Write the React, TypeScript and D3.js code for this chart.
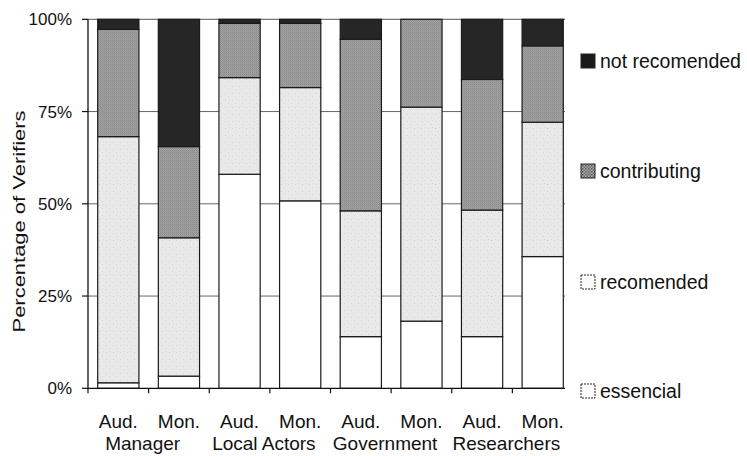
import React from "react";
import * as d3 from "d3";

const categories = ["Aud.", "Mon.", "Aud.", "Mon.", "Aud.", "Mon.", "Aud.", "Mon."];
const groups = ["Manager", "Local Actors", "Government", "Researchers"];
const essencial = [1.5, 3.3, 58.0, 50.8, 14.0, 18.2, 14.0, 35.7];
const recomended = [66.7, 37.5, 26.2, 30.7, 34.1, 58.0, 34.3, 36.4];
const contributing = [29.1, 24.7, 14.7, 17.4, 46.5, 23.8, 35.4, 20.7];
const notRecomended = [2.7, 34.5, 1.1, 1.1, 5.4, 0.0, 16.3, 7.2];
const seriesNames = ["essencial", "recomended", "contributing", "not recomended"];
const yTicks = [0, 25, 50, 75, 100];

const W = 747;
const H = 456;
const FONT = "'Liberation Sans', Arial, Helvetica, sans-serif";

export default function App() {
  const left = 88;
  const right = 573;
  const top = 19.3;
  const bottom = 388.3;
  const axisEnd = 565;

  const idx = categories.map((_, i) => i);
  const x = d3.scaleBand<number>().domain(idx).range([left, right]).padding(0);
  const y = d3.scaleLinear().domain([0, 100]).range([bottom, top]);
  const barW = x.bandwidth() * 0.68;

  const rows = idx.map((i) => ({
    essencial: essencial[i],
    recomended: recomended[i],
    contributing: contributing[i],
    "not recomended": notRecomended[i],
  }));
  const stacked = d3.stack<any>().keys(seriesNames)(rows);

  const fills: Record<string, string> = {
    essencial: "#ffffff",
    recomended: "url(#patRec)",
    contributing: "url(#patCon)",
    "not recomended": "#262626",
  };
  const legendFills: Record<string, string> = {
    essencial: "#ffffff",
    recomended: "#fafafa",
    contributing: "url(#patConL)",
    "not recomended": "#1a1a1a",
  };

  const legendY = [61, 171, 282, 391];
  const legendOrder = ["not recomended", "contributing", "recomended", "essencial"];

  return (
    <div style={{ position: "absolute", left: 0, top: 0 }}>
      <svg width={W} height={H} style={{ display: "block", background: "#fff" }} fontFamily={FONT}>
        <defs>
          <pattern id="patCon" width="2" height="2" patternUnits="userSpaceOnUse">
            <rect width="2" height="2" fill="#a2a2a2" />
            <rect width="1" height="1" fill="#8a8a8a" />
            <rect x="1" y="1" width="1" height="1" fill="#939393" />
          </pattern>
          <pattern id="patConL" width="3" height="3" patternUnits="userSpaceOnUse">
            <rect width="3" height="3" fill="#b0b0b0" />
            <rect width="1.5" height="1.5" fill="#555" />
            <rect x="1.5" y="1.5" width="1.5" height="1.5" fill="#666" />
          </pattern>
          <pattern id="patRec" width="7" height="7" patternUnits="userSpaceOnUse">
            <rect width="7" height="7" fill="#e9e9e9" />
            <rect x="1" y="2" width="1" height="1" fill="#d2d2d2" />
            <rect x="4" y="5" width="1" height="1" fill="#d6d6d6" />
            <rect x="5" y="1" width="1" height="1" fill="#dedede" />
          </pattern>
        </defs>

        {/* gridlines */}
        {yTicks.filter((t) => t > 0).map((t) => (
          <line key={t} x1={left} x2={axisEnd} y1={y(t)} y2={y(t)}
            stroke={t === 100 ? "#555" : "#666"} strokeWidth={1} />
        ))}

        {/* bars */}
        {stacked.map((s) => (
          <g key={s.key}>
            {s.map((d, i) => {
              const h = y(d[0]) - y(d[1]);
              if (h <= 0) return null;
              return (
                <rect key={i}
                  x={(x(i) as number) + (x.bandwidth() - barW) / 2}
                  y={y(d[1])}
                  width={barW}
                  height={h}
                  fill={fills[s.key]}
                  stroke="#1a1a1a"
                  strokeWidth={1.2} />
              );
            })}
          </g>
        ))}

        {/* axes */}
        <line x1={left} x2={left} y1={top} y2={bottom} stroke="#111" strokeWidth={1.3} />
        <line x1={left} x2={axisEnd} y1={bottom} y2={bottom} stroke="#111" strokeWidth={1.3} />
        {yTicks.map((t) => (
          <g key={t}>
            <line x1={left - 6} x2={left} y1={y(t)} y2={y(t)} stroke="#111" strokeWidth={1.2} />
            <text x={72} y={y(t)} dy="0.36em" textAnchor="end" fontSize={17} fill="#111">{t}%</text>
          </g>
        ))}
        {idx.map((i) => (
          <line key={i} x1={x(i) as number} x2={x(i) as number} y1={bottom} y2={bottom + 5}
            stroke="#111" strokeWidth={1.2} />
        ))}

        {/* x labels */}
        {categories.map((c, i) => (
          <text key={i} x={(x(i) as number) + x.bandwidth() / 2} y={428}
            textAnchor="middle" fontSize={19} fill="#111">{c}</text>
        ))}
        {groups.map((g, j) => (
          <text key={g} x={(x(2 * j) as number) + x.bandwidth() - 6} y={450}
            textAnchor="middle" fontSize={19} fill="#111">{g}</text>
        ))}

        {/* y title */}
        <text transform={`translate(25, 221.5) rotate(-90)`} textAnchor="middle"
          fontSize={17} textLength={222} lengthAdjust="spacingAndGlyphs" fill="#111">
          Percentage of Verifiers
        </text>

        {/* legend */}
        {legendOrder.map((k, j) => (
          <g key={k}>
            <rect x={581} y={legendY[j] - 7} width={14} height={14}
              fill={legendFills[k]} stroke="#222" strokeWidth={1}
              strokeDasharray={k === "recomended" || k === "essencial" ? "2,1" : undefined} />
            <text x={600} y={legendY[j]} dy="0.36em" fontSize={19.5} fill="#111">{k}</text>
          </g>
        ))}
      </svg>
    </div>
  );
}
